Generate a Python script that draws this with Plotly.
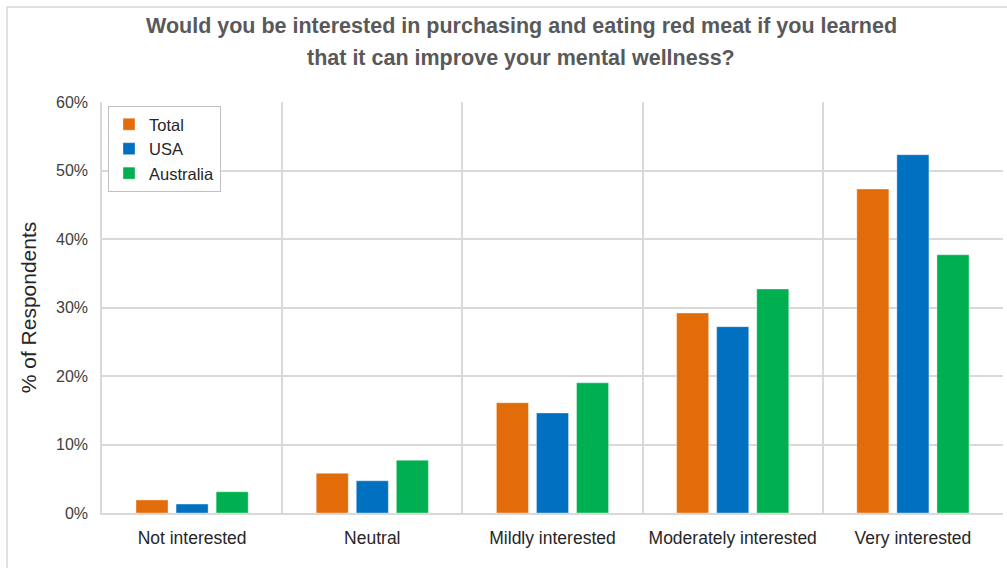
import plotly.graph_objects as go

categories = ["Not interested", "Neutral", "Mildly interested", "Moderately interested", "Very interested"]
total = [1.9, 5.8, 16.1, 29.2, 47.3]
usa = [1.3, 4.7, 14.6, 27.2, 52.3]
australia = [3.1, 7.7, 19.0, 32.7, 37.7]
series_names = ["Total", "USA", "Australia"]
colors = ["#E36C0A", "#0070C0", "#00B050"]
title_lines = ["Would you be interested in purchasing and eating red meat if you learned",
               "that it can improve your mental wellness?"]

W, H = 1007, 568
L, R, T, B = 102, 4, 102, 55
pw, ph = W - L - R, H - T - B

fig = go.Figure()
for name, vals, c in zip(series_names, [total, usa, australia], colors):
    fig.add_trace(go.Bar(x=categories, y=[v / 100 for v in vals], name=name,
                         marker=dict(color=c, line=dict(width=0.6, color="rgba(255,255,255,0.6)"))))

# invisible trace for category-boundary gridlines
fig.add_trace(go.Scatter(x=[-0.5, 4.5], y=[0, 0], xaxis="x2", mode="lines",
                         line=dict(width=0), showlegend=False, hoverinfo="skip"))

font = "Liberation Sans, Arial, sans-serif"
annotations = []
for i, (line, ypix) in enumerate(zip(title_lines, [26, 58])):
    annotations.append(dict(text="<b>" + line + "</b>", xref="paper", yref="paper",
                            x=(521 - L) / pw, y=1 + (T - ypix) / ph, xanchor="center", yanchor="middle",
                            showarrow=False, font=dict(size=21.5, color="#595959", family=font)))

fig.update_layout(
    width=W, height=H,
    margin=dict(l=L, r=R, t=T, b=B),
    paper_bgcolor="white", plot_bgcolor="white",
    barmode="group", bargap=0.333, bargroupgap=0.2,
    font=dict(family=font, color="#404040"),
    annotations=annotations,
    xaxis=dict(showgrid=False, showline=True, linecolor="#d9d9d9", linewidth=1.5,
               tickfont=dict(size=17.5, color="#262626"), ticks="", zeroline=False,
               ticklabelstandoff=8),
    xaxis2=dict(overlaying="x", range=[-0.5, 4.5], tickvals=[0.5, 1.5, 2.5, 3.5],
                showticklabels=False, showgrid=True, gridcolor="#d9d9d9", gridwidth=1.5,
                zeroline=False, showline=False, ticks=""),
    yaxis=dict(range=[0, 0.6], dtick=0.1, tickformat=".0%", showgrid=True,
               gridcolor="#d9d9d9", gridwidth=1.5, zeroline=False, showline=True,
               linecolor="#d9d9d9", linewidth=1.5, mirror=False,
               tickfont=dict(size=16, color="#404040"), ticks="", ticklen=0,
               ticklabelstandoff=9,
               title=dict(text="% of Respondents", font=dict(size=21, color="#262626"), standoff=14)),
    legend=dict(x=(108 - L) / pw, y=1 - (106 - T) / ph, xanchor="left", yanchor="top",
                bordercolor="#bfbfbf", borderwidth=1, bgcolor="white",
                font=dict(size=16.5, color="#262626"), tracegroupgap=0, itemwidth=30),
    shapes=[dict(type="rect", xref="paper", yref="paper",
                 x0=(7 - L) / pw, x1=(1010 - L) / pw, y0=-(H + 10 - T - ph) / ph, y1=1 + (T - 7) / ph,
                 line=dict(color="#d9d9d9", width=1.5), layer="below")],
)
fig.write_html("out.html")
